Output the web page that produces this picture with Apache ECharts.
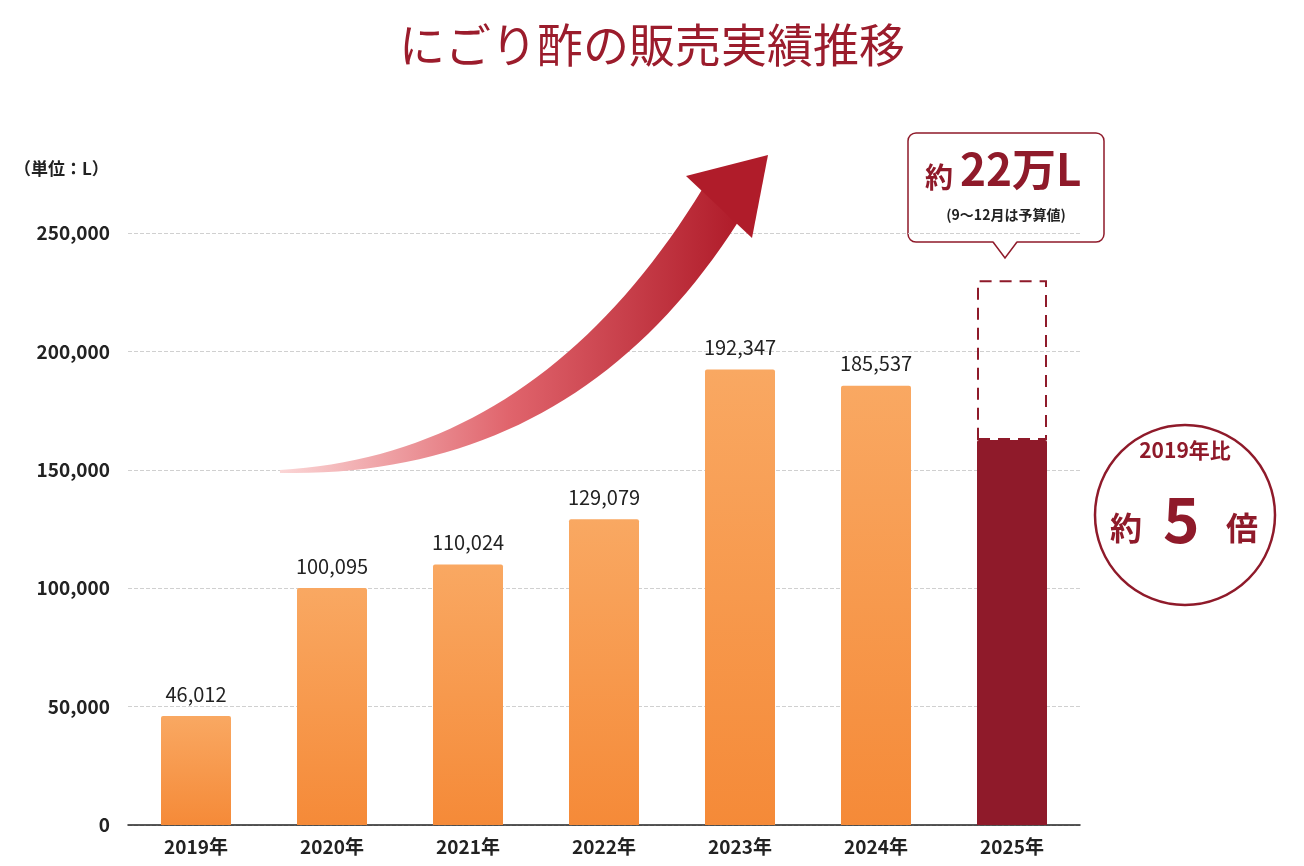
<!DOCTYPE html>
<html><head><meta charset="utf-8">
<script src="https://cdn.jsdelivr.net/npm/echarts@6/dist/echarts.min.js"></script>
<style>html,body{margin:0;padding:0;background:#fff}#c{width:1304px;height:866px}</style>
</head><body><div id="c"></div>
<script>
var years = ['2019年', '2020年', '2021年', '2022年', '2023年', '2024年', '2025年'];
var sales = [46012, 100095, 110024, 129079, 192347, 185537, 162600];
var budgetTotal = 230000;   // 2025年 見込み（破線部分の上端）
var yTicks = [0, 50000, 100000, 150000, 200000, 250000];

var FONT = '"Noto Sans CJK JP", "Noto Sans", sans-serif';
var RED = '#8f1a2a';

// 矢印の形（装飾）：二次ベジェの上辺・下辺を折れ線にする
function quad(p0, p1, p2, n) {
    var pts = [];
    for (var i = 0; i <= n; i++) {
        var t = i / n, u = 1 - t;
        pts.push([u * u * p0[0] + 2 * u * t * p1[0] + t * t * p2[0],
                  u * u * p0[1] + 2 * u * t * p1[1] + t * t * p2[1]]);
    }
    return pts;
}
var arrowBody = quad([280, 470], [540, 455], [703, 188], 40)
    .concat(quad([738, 222], [575, 478], [280, 473], 40));

var chart = echarts.init(document.getElementById('c'));

var barData = sales.map(function (v, i) {
    if (i === sales.length - 1) {
        return { value: v, itemStyle: { color: RED }, label: { show: false } };
    }
    return v;
});
var budgetData = years.map(function (y, i) {
    return i === years.length - 1 ? budgetTotal - sales[i] : '-';
});

var option = {
    backgroundColor: '#fff',
    textStyle: { fontFamily: FONT },
    grid: { left: 128, right: 224, top: 233, bottom: 41 },
    xAxis: {
        type: 'category',
        data: years,
        axisLine: { lineStyle: { color: '#222', width: 1.5 } },
        axisTick: { show: false },
        axisLabel: { color: '#222', fontSize: 19, fontWeight: 'bold', margin: 12, fontFamily: FONT }
    },
    yAxis: {
        type: 'value',
        min: yTicks[0], max: yTicks[yTicks.length - 1], interval: 50000,
        axisLine: { show: false },
        axisTick: { show: false },
        splitLine: { lineStyle: { color: '#d0d0d0', type: 'dashed' } },
        axisLabel: {
            color: '#222', fontSize: 19, fontWeight: 'bold', margin: 18, fontFamily: FONT,
            formatter: function (v) { return v.toLocaleString('en-US'); }
        }
    },
    series: [
        {
            type: 'bar',
            stack: 'a',
            data: barData,
            barWidth: 70,
            itemStyle: {
                color: new echarts.graphic.LinearGradient(0, 0, 0, 1, [
                    { offset: 0, color: '#f9a862' },
                    { offset: 1, color: '#f58a38' }
                ]),
                borderRadius: [2, 2, 0, 0]
            },
            label: {
                show: true, position: 'top', distance: 12,
                color: '#222', fontSize: 20, fontFamily: FONT,
                formatter: function (p) { return p.value.toLocaleString('en-US'); }
            }
        },
        {
            type: 'bar',
            stack: 'a',
            data: budgetData,
            barWidth: 70,
            itemStyle: { color: 'rgba(0,0,0,0)', borderColor: RED, borderWidth: 2, borderType: [12, 8] }
        }
    ],
    graphic: [
        { type: 'text', x: 652, y: 22,
          style: { text: 'にごり酢の販売実績推移', fill: '#9b1c2c', font: '46px ' + FONT, align: 'center' } },
        { type: 'text', x: 14, y: 160,
          style: { text: '（単位：L）', fill: '#222', font: 'bold 17px ' + FONT } },
        // 上昇矢印
        { type: 'polygon', z: 1, shape: { points: arrowBody },
          style: {
              fill: new echarts.graphic.LinearGradient(0, 0, 1, 0, [
                  { offset: 0, color: '#fbd6d6' },
                  { offset: 0.5, color: '#e0646c' },
                  { offset: 1, color: '#b01c2a' }
              ])
          } },
        { type: 'polygon', z: 1, shape: { points: [[686, 176], [768, 155], [752, 238]] },
          style: { fill: '#b01c2a' } },
        // 吹き出し
        { type: 'rect', shape: { x: 908, y: 133, width: 196, height: 109, r: 8 },
          style: { fill: '#fff', stroke: RED, lineWidth: 1.5 } },
        { type: 'polygon', shape: { points: [[993, 241], [1005, 258], [1017, 241]] },
          style: { fill: '#fff' } },
        { type: 'polyline', shape: { points: [[993, 242], [1005, 258], [1017, 242]] },
          style: { stroke: RED, lineWidth: 1.5, fill: null } },
        { type: 'text', x: 925, y: 163, style: { text: '約', fill: RED, font: 'bold 28px ' + FONT } },
        { type: 'text', x: 960, y: 147, style: { text: '22万L', fill: RED, font: 'bold 44px ' + FONT } },
        { type: 'text', x: 1006, y: 208, style: { text: '(9～12月は予算値)', fill: '#222', font: 'bold 14px ' + FONT, align: 'center' } },
        // 比較の円
        { type: 'circle', shape: { cx: 1185, cy: 515, r: 90 },
          style: { fill: '#fff', stroke: RED, lineWidth: 2.5 } },
        { type: 'text', x: 1185, y: 440, style: { text: '2019年比', fill: RED, font: 'bold 21px ' + FONT, align: 'center' } },
        { type: 'text', x: 1110, y: 512, style: { text: '約', fill: RED, font: 'bold 32px ' + FONT } },
        { type: 'text', x: 1163, y: 488, style: { text: '5', fill: RED, font: 'bold 62px ' + FONT } },
        { type: 'text', x: 1226, y: 512, style: { text: '倍', fill: RED, font: 'bold 32px ' + FONT } }
    ]
};
chart.setOption(option);
</script>
</body></html>
